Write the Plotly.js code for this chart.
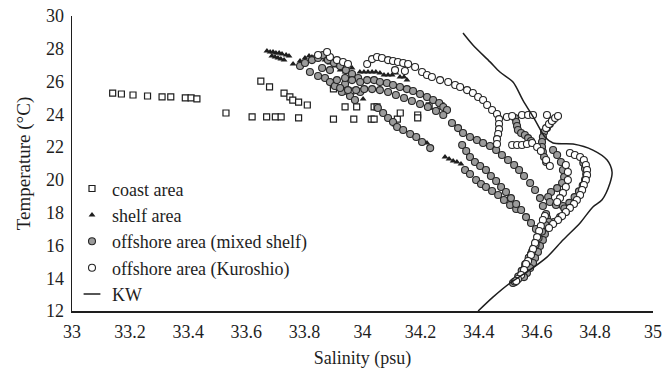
<!DOCTYPE html>
<html>
<head>
<meta charset="utf-8">
<script src="https://cdn.plot.ly/plotly-3.0.1.min.js"></script>
<style>html,body{margin:0;padding:0;background:#fff}#chart{width:664px;height:372px}</style>
</head>
<body>
<div id="chart"></div>
<script>
// ---- data (salinity psu, temperature °C) ----
const coastS = [33.14,33.17,33.21,33.26,33.31,33.34,33.39,33.41,33.43,33.53,33.62,33.67,33.70,33.72,33.78,33.90,33.97,34.03,34.04,33.65,33.68,33.73,33.75,33.76,33.78,33.81,33.90,33.90,33.94,33.96,33.94,33.98,34.04,34.05,34.12,34.13,34.19,34.19,34.23,34.24,34.25,34.27];
const coastT = [25.30,25.24,25.18,25.12,25.06,25.06,25.00,25.00,24.94,24.08,23.84,23.84,23.84,23.84,23.78,23.71,23.71,23.71,23.71,26.03,25.67,25.30,25.06,24.87,24.75,24.57,25.79,25.55,25.42,25.42,24.45,24.45,24.45,24.45,23.71,24.08,23.96,23.78,24.51,24.51,24.51,24.51];

const shelfS = [33.671,33.682,33.692,33.702,33.713,33.723,33.737,33.747,33.688,33.699,33.709,33.719,33.730,33.761,33.785,33.802,33.816,33.826,33.840,33.854,33.871,33.888,33.905,33.923,33.940,33.964,33.991,34.005,34.019,34.033,34.046,34.060,34.074,34.088,34.102,34.115,34.129,34.143,34.153,34.002,34.112,34.222,34.284,34.298,34.312,34.325,34.339];
const shelfT = [27.86,27.80,27.80,27.74,27.74,27.68,27.62,27.56,27.56,27.50,27.44,27.38,27.31,27.07,27.25,27.44,27.56,27.50,27.62,27.44,27.31,27.13,26.95,26.70,26.58,26.83,26.58,26.58,26.58,26.58,26.58,26.52,26.40,26.40,26.40,26.52,26.28,26.28,26.09,24.94,23.35,22.25,21.40,21.27,21.15,21.09,20.97];

const mixedS = [
33.785,33.802,33.826,33.847,33.864,33.881,33.902,33.923,33.943,33.964,33.985,
33.819,33.847,33.871,33.888,33.905,33.929,33.957,33.974,33.861,33.888,33.940,33.992,
33.912,33.940,33.964,33.992,34.016,34.040,34.060,34.084,34.105,34.129,34.153,34.174,34.198,34.222,34.243,34.264,34.278,34.291,
33.923,33.950,33.978,34.006,34.033,34.060,34.088,34.115,34.143,34.170,34.198,34.225,34.253,34.278,
34.053,34.071,34.088,34.105,34.119,34.140,34.164,34.185,34.205,34.233,34.353,34.370,34.391,34.408,
34.425,34.446,34.467,34.487,34.508,34.529,
34.308,34.329,34.346,34.370,34.394,34.415,34.439,34.460,34.480,34.501,34.522,34.539,34.556,34.577,34.594,34.611,34.621,34.632,34.639,
34.343,34.357,34.370,34.387,34.405,34.425,34.442,34.460,34.477,34.494,34.511,34.529,34.546,34.563,34.580,34.597,34.614,
34.525,34.529,34.532,34.535,34.546,34.559,34.570,34.580,
34.656,34.645,34.635,34.625,34.621,34.618,34.618,34.621,34.625,34.632,
34.656,34.670,34.683,34.690,34.694,34.687,34.670,34.649,34.639,34.645,34.666,34.690,34.714,34.700,34.680,34.659,
34.635,34.628,34.625,34.621,34.614,34.611,34.608,34.604,34.597,34.594,34.590,34.587,34.580,34.577,34.573,34.566,34.563,34.559,34.552,34.549,34.542,34.539,34.532,34.525,34.518,
34.642,34.635,34.628,34.621,34.611,34.604,34.594,34.587,34.577,34.566,34.556,
34.630,34.618,34.606,34.596,34.584,34.572,34.560,34.548,34.536,34.524,
34.760,34.766,34.770,34.766,34.758,34.745,34.730,34.712,34.695];
const mixedT = [
26.95,27.13,27.31,27.44,27.62,27.31,27.13,26.95,26.70,26.46,26.22,
26.58,26.34,26.22,25.97,25.73,25.36,25.12,24.87,26.83,26.70,25.85,25.36,
26.09,26.22,26.09,25.97,26.09,26.09,25.97,25.91,25.79,25.67,25.54,25.42,25.24,25.06,24.87,24.69,24.45,24.26,
25.61,25.48,25.48,25.54,25.54,25.48,25.36,25.18,25.00,24.81,24.63,24.45,24.20,23.96,
24.39,24.08,23.78,23.53,23.23,23.04,22.80,22.62,22.31,21.94,20.60,20.36,19.99,19.75,
19.57,19.32,19.08,18.77,18.47,18.22,
23.47,23.16,22.86,22.62,22.43,22.25,22.07,21.82,21.52,21.21,20.91,20.60,20.24,19.81,19.38,18.89,18.41,17.92,17.43,
22.13,21.76,21.40,21.09,20.85,20.60,20.24,19.93,19.57,19.26,18.89,18.53,18.16,17.73,17.37,17.00,16.64,
23.78,23.53,23.29,23.04,22.86,22.74,22.55,22.37,
23.65,23.41,23.16,22.92,22.62,22.31,22.01,21.70,21.40,21.09,
21.82,21.52,21.09,20.60,20.18,19.81,19.50,19.26,18.96,18.65,18.47,18.41,18.35,18.04,17.73,17.43,
17.67,17.49,17.31,17.12,16.94,16.76,16.58,16.39,16.21,16.03,15.84,15.66,15.48,15.29,15.11,14.93,14.75,14.62,14.44,14.32,14.14,14.01,13.89,13.77,13.71,
17.43,17.06,16.70,16.33,15.97,15.60,15.23,14.93,14.62,14.32,14.07,
17.25,16.85,16.45,16.05,15.65,15.25,14.85,14.45,14.10,13.80,
21.05,20.70,20.35,20.00,19.65,19.30,18.95,18.60,18.25];

const kuroS = [
33.847,33.888,33.912,33.933,33.950,33.878,
34.016,34.033,34.050,34.067,34.088,34.105,34.122,34.140,34.157,34.181,34.205,34.222,34.239,34.267,34.295,34.319,34.336,34.360,34.380,34.398,34.415,34.429,34.446,34.463,34.470,34.470,34.470,34.467,34.463,34.463,
34.112,34.146,
34.497,34.515,34.549,34.570,34.587,34.635,
34.632,34.642,34.652,34.663,34.673,
34.515,34.532,34.549,34.566,34.584,34.601,34.614,34.632,34.645,
34.714,34.731,34.749,34.762,34.769,34.773,34.773,34.769,34.762,34.756,34.749,34.738,34.728,34.714,34.700,34.687,34.673,34.656,34.642,
34.700,34.707,34.707,34.700,34.690,34.680,34.670,
34.628,34.621,34.614,34.608,34.601,34.594,34.587,34.580,34.570,34.563,34.556,34.546,34.535,34.529];
const kuroT = [
27.62,27.50,27.31,27.19,27.07,27.80,
27.07,27.37,27.50,27.44,27.31,27.25,27.19,27.13,27.07,26.89,26.58,26.40,26.28,26.09,25.97,25.79,25.67,25.48,25.30,25.06,24.87,24.57,24.26,24.02,23.71,23.41,23.10,22.80,22.49,22.19,
26.70,26.64,
23.84,23.90,23.96,23.96,23.96,23.96,
23.16,23.41,23.59,23.78,23.90,
22.13,22.13,22.13,22.19,22.25,22.01,21.76,21.21,20.85,
21.64,21.52,21.40,21.21,20.91,20.60,20.30,19.99,19.69,19.38,19.08,18.77,18.53,18.29,18.04,17.80,17.55,17.31,17.06,
20.91,20.48,19.99,19.57,19.20,18.89,18.65,
17.80,17.55,17.19,16.88,16.51,16.15,15.78,15.42,15.05,14.87,14.50,14.20,13.95,13.83];

const kwS = [34.346,34.380,34.439,34.473,34.518,34.552,34.594,34.628,34.656,34.725,34.793,34.842,34.859,34.852,34.824,34.793,34.749,34.690,34.635,34.566,34.508,34.449,34.398];
const kwT = [28.96,28.23,27.20,26.58,25.97,24.87,23.65,22.62,22.25,22.19,21.82,21.21,20.48,19.81,18.77,18.35,17.37,16.33,15.29,14.38,13.71,12.85,12.00];

const xTicks = [33,33.2,33.4,33.6,33.8,34,34.2,34.4,34.6,34.8,35];
const xTickText = ['33','33.2','33.4','33.6','33.8','34','34.2','34.4','34.6','34.8','35'];
const yTicks = [12,14,16,18,20,22,24,26,28,30];

const FONT = '"Liberation Serif", "Times New Roman", serif';
const INK = '#1e1e1e';

const traces = [
  {x: coastS, y: coastT, name: 'coast area', type: 'scatter', mode: 'markers',
   marker: {symbol: 'square', size: 6, color: '#ffffff', line: {color: INK, width: 1.2}}},
  {x: shelfS, y: shelfT, name: 'shelf area', type: 'scatter', mode: 'markers',
   marker: {symbol: 'triangle-up', size: 6, color: INK, line: {width: 0}}},
  {x: mixedS, y: mixedT, name: 'offshore area (mixed shelf)', type: 'scatter', mode: 'markers',
   marker: {symbol: 'circle', size: 7, color: '#9b9b9b', line: {color: '#262626', width: 1.1}}},
  {x: kuroS, y: kuroT, name: 'offshore area (Kuroshio)', type: 'scatter', mode: 'markers',
   marker: {symbol: 'circle', size: 7, color: '#ffffff', line: {color: '#262626', width: 1.1}}},
  {x: kwS, y: kwT, name: 'KW', type: 'scatter', mode: 'lines', showlegend: false,
   line: {color: INK, width: 1.5, shape: 'spline', smoothing: 0.8}},
  // legend-only entry giving the short dash shown in the original key
  {x: [null], y: [null], name: 'KW', type: 'scatter', mode: 'markers',
   marker: {symbol: 'line-ew-open', size: 12, color: INK, line: {color: INK, width: 1.5}}}
];

const layout = {
  width: 664, height: 372,
  margin: {l: 72, r: 11, t: 16, b: 61, pad: 0},
  paper_bgcolor: '#ffffff', plot_bgcolor: '#ffffff',
  font: {family: FONT, size: 18, color: INK},
  showlegend: true,
  legend: {x: 0.0, xanchor: 'left', y: 0.477, yanchor: 'top', bgcolor: 'rgba(0,0,0,0)',
           font: {family: FONT, size: 18, color: INK}, tracegroupgap: 0, itemclick: false},
  xaxis: {range: [33, 35], tickvals: xTicks, ticktext: xTickText, showgrid: false, zeroline: false,
          showline: true, linecolor: INK, linewidth: 1.5, ticks: '', ticklabelstandoff: 4,
          tickfont: {family: FONT, size: 18, color: INK},
          title: {text: 'Salinity (psu)', font: {family: FONT, size: 18, color: INK}, standoff: 10}},
  yaxis: {range: [12, 30], tickvals: yTicks, showgrid: false, zeroline: false,
          showline: true, linecolor: INK, linewidth: 1.5, ticks: '', ticklabelstandoff: 3,
          tickfont: {family: FONT, size: 18, color: INK},
          title: {text: 'Temperature (°C)', font: {family: FONT, size: 19, color: INK}, standoff: 10}}
};

Plotly.newPlot('chart', traces, layout, {staticPlot: true, displayModeBar: false});
</script>
</body>
</html>
